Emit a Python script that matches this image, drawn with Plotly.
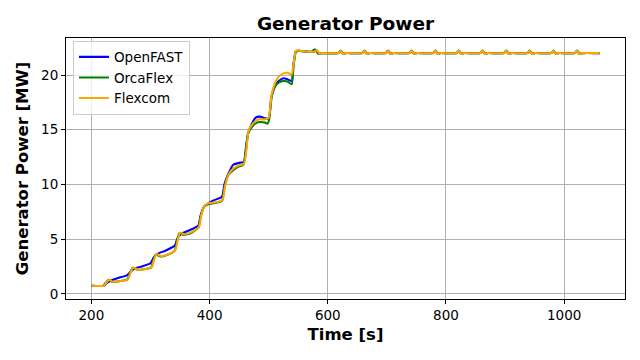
import plotly.graph_objects as go

# ---- data ----
t_ramp_of = [200, 221, 226, 232, 245, 260, 266, 272, 285, 300, 305, 311, 325, 341, 345, 351, 365, 381,
             385, 391, 405, 421, 425, 432, 440, 452, 458, 462, 466, 472, 478, 485, 494, 500, 505, 510,
             516, 525, 532, 539, 542, 546, 550, 562, 576, 580, 584, 590]
v_ramp_of = [0.75, 0.75, 1.0, 1.2, 1.45, 1.7, 2.0, 2.3, 2.5, 2.8, 3.3, 3.65, 3.95, 4.4, 5.0, 5.45, 5.8, 6.25,
             7.2, 8.0, 8.5, 8.9, 10.0, 11.0, 11.8, 12.0, 12.05, 13.6, 14.8, 15.6, 16.1, 16.2, 16.05, 16.0, 18.0, 18.9,
             19.4, 19.7, 19.6, 19.45, 21.0, 22.2, 22.22, 22.15, 22.1, 22.25, 21.95, 22.0]

t_ramp_oc = [200, 220, 224, 229, 235, 246, 261, 265, 270, 278, 289, 301, 305, 309, 317, 329, 341, 345,
             349, 356, 368, 381, 385, 390, 397, 409, 421, 425, 431, 440, 450, 457, 461, 465, 471, 477,
             484, 494, 498, 501, 504, 510, 517, 525, 532, 539, 542, 546, 550, 562, 572, 578, 584, 590]
v_ramp_oc = [0.75, 0.75, 1.0, 1.3, 1.1, 1.15, 1.33, 1.9, 2.4, 2.2, 2.25, 2.42, 3.1, 3.6, 3.42, 3.58, 3.95, 4.9,
             5.55, 5.4, 5.55, 6.05, 7.1, 7.9, 8.2, 8.3, 8.5, 9.7, 10.8, 11.3, 11.65, 11.8, 12.9, 14.7, 15.2, 15.55,
             15.7, 15.65, 15.55, 16.0, 17.8, 18.9, 19.3, 19.45, 19.4, 19.15, 20.8, 22.1, 22.2, 22.15, 22.12, 22.35, 21.95, 22.0]

t_ramp_fx = [200, 221, 225, 230, 236, 246, 262, 266, 271, 279, 289, 302, 306, 310, 318, 329, 342, 346,
             350, 357, 368, 382, 386, 391, 398, 409, 422, 426, 432, 440, 450, 458, 462, 466, 471, 477,
             484, 494, 500, 505, 511, 517, 525, 532, 539, 542, 546, 550, 562, 576, 582, 586, 590]
v_ramp_fx = [0.75, 0.75, 1.0, 1.32, 1.12, 1.15, 1.35, 1.9, 2.42, 2.2, 2.25, 2.45, 3.1, 3.65, 3.45, 3.6, 4.0, 4.9,
             5.6, 5.45, 5.6, 6.1, 7.2, 8.0, 8.3, 8.35, 8.6, 9.8, 10.9, 11.45, 11.75, 11.85, 13.0, 14.9, 15.4, 15.75,
             15.95, 15.95, 16.1, 18.2, 19.3, 19.85, 20.15, 20.2, 20.05, 21.0, 22.2, 22.25, 22.15, 22.12, 22.25, 21.95, 22.0]

t_plateau = [618, 622, 626, 630, 658, 662, 666, 670, 698, 702, 706, 710, 738, 742, 746, 750,
             778, 782, 786, 790, 818, 822, 826, 830, 858, 862, 866, 870, 898, 902, 906, 910,
             938, 942, 946, 950, 978, 982, 986, 990, 1018, 1022, 1026, 1030, 1060]
v_plateau_of = [22.0, 22.2, 21.93, 22.0, 22.0, 22.2, 21.93, 22.0, 22.0, 22.2, 21.93, 22.0, 22.0, 22.2, 21.93, 22.0,
                22.0, 22.2, 21.93, 22.0, 22.0, 22.2, 21.93, 22.0, 22.0, 22.2, 21.93, 22.0, 22.0, 22.2, 21.93, 22.0,
                22.0, 22.2, 21.93, 22.0, 22.0, 22.2, 21.93, 22.0, 22.0, 22.2, 21.93, 22.0, 22.0]
v_plateau_oc = [22.0, 22.24, 21.92, 22.0, 22.0, 22.24, 21.92, 22.0, 22.0, 22.24, 21.92, 22.0, 22.0, 22.24, 21.92, 22.0,
                22.0, 22.24, 21.92, 22.0, 22.0, 22.24, 21.92, 22.0, 22.0, 22.24, 21.92, 22.0, 22.0, 22.24, 21.92, 22.0,
                22.0, 22.24, 21.92, 22.0, 22.0, 22.24, 21.92, 22.0, 22.0, 22.24, 21.92, 22.0, 22.0]
v_plateau_fx = [22.0, 22.22, 21.92, 22.0, 22.0, 22.22, 21.92, 22.0, 22.0, 22.22, 21.92, 22.0, 22.0, 22.22, 21.92, 22.0,
                22.0, 22.22, 21.92, 22.0, 22.0, 22.22, 21.92, 22.0, 22.0, 22.22, 21.92, 22.0, 22.0, 22.22, 21.92, 22.0,
                22.0, 22.22, 21.92, 22.0, 22.0, 22.22, 21.92, 22.0, 22.0, 22.22, 21.92, 22.0, 22.0]

series_names = ["OpenFAST", "OrcaFlex", "Flexcom"]
series_colors = ["#0000ff", "#008000", "#ffa500"]
x_ticks = [200, 400, 600, 800, 1000]
y_ticks = [0, 5, 10, 15, 20]

series_t = [t_ramp_of + t_plateau, t_ramp_oc + t_plateau, t_ramp_fx + t_plateau]
series_v = [v_ramp_of + v_plateau_of, v_ramp_oc + v_plateau_oc, v_ramp_fx + v_plateau_fx]

FONT = "DejaVu Sans"
fig = go.Figure()
for name, color, t, v in zip(series_names, series_colors, series_t, series_v):
    fig.add_trace(go.Scatter(x=t, y=v, mode="lines", name=name,
                             line=dict(color=color, width=2.1, shape="spline", smoothing=0.5)))

axis_common = dict(showline=True, linecolor="black", linewidth=1, mirror=True,
                   ticks="outside", ticklen=4, tickwidth=1, tickcolor="black",
                   showgrid=True, gridcolor="#b0b0b0", gridwidth=1, zeroline=False,
                   tickfont=dict(family=FONT, size=13.5, color="black"))

fig.update_layout(
    width=640, height=360,
    margin=dict(l=66, r=15, t=38, b=61),
    paper_bgcolor="white", plot_bgcolor="white",
    font=dict(family=FONT, color="black"),
    title=dict(text="Generator Power", x=0.5, xref="paper", y=1 - 24 / 360, yref="container",
               xanchor="center", yanchor="middle",
               font=dict(family=FONT, size=18.5, weight="bold", color="black")),
    xaxis=dict(range=[157, 1103], tickvals=x_ticks,
               title=dict(text="Time [s]", standoff=6,
                          font=dict(family=FONT, size=16.5, weight="bold", color="black")),
               **axis_common),
    yaxis=dict(range=[-0.46, 23.38], tickvals=y_ticks,
               title=dict(text="Generator Power [MW]", standoff=8,
                          font=dict(family=FONT, size=16.5, weight="bold", color="black")),
               **axis_common),
    legend=dict(x=0.0125, y=0.99, xanchor="left", yanchor="top",
                bgcolor="rgba(255,255,255,0.8)", bordercolor="#cccccc", borderwidth=1,
                font=dict(family=FONT, size=13.5, color="black"),
                itemwidth=30, tracegroupgap=0),
    showlegend=True,
)

fig.write_html("out.html")
